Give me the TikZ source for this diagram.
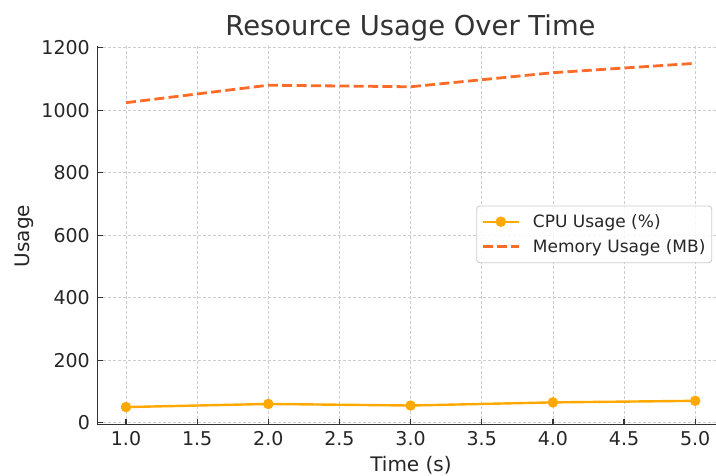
\documentclass[tikz,border=0pt]{standalone}
\usepackage{fontspec}
\setmainfont{DejaVu Sans}
\definecolor{cpu}{RGB}{255,168,0}
\definecolor{mem}{RGB}{252,108,40}
\definecolor{gridc}{RGB}{205,205,205}
\definecolor{axc}{RGB}{51,51,51}
\definecolor{txt}{RGB}{38,38,38}
\tikzset{
  gridline/.style={gridc, line width=0.8pt, dash pattern=on 3pt off 2pt},
  spine/.style={axc, line width=1.4pt},
  tickmark/.style={axc, line width=1.2pt},
  ticklab/.style={font=\fontsize{19}{19}\selectfont, text=txt, inner sep=0pt},
  cpuline/.style={cpu, line width=2.4pt},
  memline/.style={mem, line width=2.8pt, dash pattern=on 10pt off 4.3pt},
  dot/.style={circle, fill=cpu, inner sep=0pt, minimum size=10.5pt},
  legtext/.style={font=\fontsize{17}{17}\selectfont, text=txt, inner sep=0pt, anchor=base west}
}
\begin{document}
\begin{tikzpicture}[x=1pt,y=-1pt]
\useasboundingbox (0,0) rectangle (716,475);
\fill[white] (0,0) rectangle (716,475);
\begin{scope}[shift={(-16.3,422.7)}, x=142.3pt, y=0.3125pt]
  % grid
  \foreach \t in {1.0,1.5,2.0,2.5,3.0,3.5,4.0,4.5,5.0} \draw[gridline] (\t,-5) -- (\t,1205);
  \foreach \v in {0,200,400,600,800,1000,1200} \draw[gridline] (0.8,\v) -- (5.2,\v);
  % spines
  \draw[spine] (0.8,1205) -- (0.8,-5) -- (5.2,-5);
  % ticks
  \foreach \t in {1.0,1.5,2.0,2.5,3.0,3.5,4.0,4.5,5.0} {
    \draw[tickmark] (\t,-5) -- ++(0,16);
    \node[ticklab, anchor=base] at (\t,-5) [yshift=-21.7pt] {\t};
  }
  \foreach \v in {0,200,400,600,800,1000,1200} {
    \draw[tickmark] (0.8,\v) -- ++(0.035,0);
    \node[ticklab, anchor=base east] at (0.8,\v) [xshift=-7.5pt, yshift=-7pt] {\v};
  }
  % data
  \draw[memline] (1,1024) -- (2,1080) -- (3,1075) -- (4,1120) -- (5,1150);
  \draw[cpuline] (1,50) -- (2,60) -- (3,55) -- (4,65) -- (5,70);
  \foreach \t/\v in {1/50,2/60,3/55,4/65,5/70} \node[dot] at (\t,\v) {};
\end{scope}
% title and labels
\node[font=\fontsize{27.4}{27.4}\selectfont, text=axc, inner sep=0pt, anchor=base] (title) at (410.5,35.7) {Resource Usage Over Time};
\node[font=\fontsize{20}{20}\selectfont, text=txt, inner sep=0pt, anchor=base] (xlab) at (411,471) {Time (s)};
\node[font=\fontsize{20}{20}\selectfont, text=txt, inner sep=0pt, anchor=base, rotate=90] (ylab) at (29,236) {Usage};
% legend
\draw[rounded corners=3pt, draw=gridc, fill=white, fill opacity=0.85, line width=0.9pt] (476.7,206) rectangle (711.7,262.7);
\coordinate (c1) at (482.7,221.7);
\coordinate (c2) at (519,221.7);
\draw[cpuline] (c1) -- (c2);
\node[dot] (cm) at (500.8,221.7) {};
\coordinate (m1) at (482.7,246.7);
\coordinate (m2) at (519,246.7);
\draw[memline] (m1) -- (m2);
\node[legtext] (l1) at (532.7,227.8) {CPU Usage (\%)};
\node[legtext] (l2) at (532.7,252.2) {Memory Usage (MB)};
\end{tikzpicture}
\end{document}
